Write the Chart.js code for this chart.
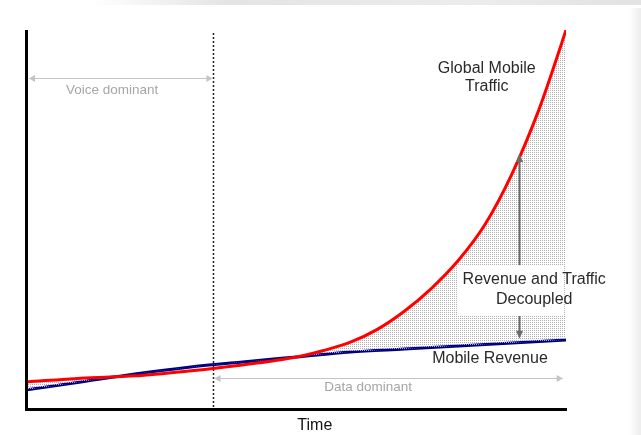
<!DOCTYPE html>
<html>
<head>
<meta charset="utf-8">
<title>Mobile traffic vs revenue</title>
<script src="https://cdn.jsdelivr.net/npm/chart.js@4"></script>
<style>
  html, body { margin: 0; padding: 0; background: #fff; }
  #wrap { position: relative; width: 641px; height: 435px; overflow: hidden; }
  #topband { position: absolute; left: 90px; right: 0; top: 0; height: 5px;
    background: linear-gradient(to right, rgba(225,225,225,0), #e4e4e4 25%, #ececec 70%, #e2e2e2); }
  #sideband { position: absolute; right: 0; top: 8px; width: 12px; bottom: 0;
    background: linear-gradient(to right, rgba(238,238,238,0), #ededed); }
  canvas { position: absolute; left: 0; top: 0; }
</style>
</head>
<body>
<div id="wrap">
  <div id="topband"></div>
  <div id="sideband"></div>
  <canvas id="mc" width="641" height="435"></canvas>
</div>
<script>
// time runs 0..100, both series on a 0..100 index scale
var TIME     = [0, 10, 20, 30, 40, 50, 55, 60, 65, 70, 75, 80, 85, 90, 95, 97.5, 100];
var TRAFFIC  = [6.9, 7.9, 8.5, 9.8, 11.4, 13.5, 15.2, 17.4, 20.8, 25.6, 31.6, 39.0, 48.6, 62.0, 79.0, 89.2, 100];
var REV_TIME = [0, 10, 20, 30, 40, 50, 60, 70, 80, 90, 100];
var REVENUE  = [4.8, 6.9, 9.0, 10.8, 12.2, 13.5, 14.8, 15.6, 16.4, 17.2, 18.0];

var DATA_ERA_START = 34.5;   // dashed divider: voice -> data
var GAP_AT = 91.3;           // where the decoupling arrows sit

var FONT = '"Liberation Sans", Arial, sans-serif';

function pts(xs, ys) {
  var out = [];
  for (var i = 0; i < xs.length; i++) out.push({ x: xs[i], y: ys[i] });
  return out;
}

// light stipple for the gap between the curves
var pc = document.createElement('canvas');
pc.width = 2; pc.height = 2;
var pctx = pc.getContext('2d');
pctx.fillStyle = '#b0b0b0';
pctx.fillRect(0, 0, 1, 1);
var ctx = document.getElementById('mc').getContext('2d');
var stipple = ctx.createPattern(pc, 'repeat');

function arrowHead(c, x, y, dir, w, h, color) {
  // dir: 'up' 'down' 'left' 'right', tip at (x, y)
  c.fillStyle = color;
  c.beginPath();
  c.moveTo(x, y);
  if (dir === 'up')    { c.lineTo(x - w / 2, y + h); c.lineTo(x + w / 2, y + h); }
  if (dir === 'down')  { c.lineTo(x - w / 2, y - h); c.lineTo(x + w / 2, y - h); }
  if (dir === 'left')  { c.lineTo(x + h, y - w / 2); c.lineTo(x + h, y + w / 2); }
  if (dir === 'right') { c.lineTo(x - h, y - w / 2); c.lineTo(x - h, y + w / 2); }
  c.closePath();
  c.fill();
}

var decor = {
  id: 'decor',
  beforeDatasetsDraw: function (chart) {
    var c = chart.ctx, xs = chart.scales.x, ys = chart.scales.y, a = chart.chartArea;
    c.save();
    // voice / data divider
    var dx = Math.round(xs.getPixelForValue(DATA_ERA_START)) + 0.5;
    c.strokeStyle = '#222';
    c.lineWidth = 1.5;
    c.setLineDash([2, 2]);
    c.beginPath();
    c.moveTo(dx, a.top + 3);
    c.lineTo(dx, a.bottom);
    c.stroke();
    c.setLineDash([]);

    // era span arrows
    c.strokeStyle = '#c4c4c4';
    c.lineWidth = 1;
    var vy = Math.round(ys.getPixelForValue(87.3)) + 0.5;
    var x0 = xs.getPixelForValue(0) + 2, x1 = dx - 1;
    c.beginPath(); c.moveTo(x0, vy); c.lineTo(x1, vy); c.stroke();
    arrowHead(c, x0, vy, 'left', 7, 6, '#c4c4c4');
    arrowHead(c, x1, vy, 'right', 7, 6, '#c4c4c4');

    var dy = Math.round(ys.getPixelForValue(7.9)) + 0.5;
    var x2 = dx + 1, x3 = xs.getPixelForValue(99.4);
    c.beginPath(); c.moveTo(x2, dy); c.lineTo(x3, dy); c.stroke();
    arrowHead(c, x2, dy, 'left', 7, 6, '#c4c4c4');
    arrowHead(c, x3, dy, 'right', 7, 6, '#c4c4c4');

    c.fillStyle = '#a6a6a6';
    c.font = '13.5px ' + FONT;
    c.textAlign = 'center';
    c.textBaseline = 'middle';
    c.fillText('Voice dominant', xs.getPixelForValue(15.8), ys.getPixelForValue(84.1));
    c.fillText('Data dominant', xs.getPixelForValue(63.3), ys.getPixelForValue(5.6));
    c.restore();
  },
  afterDatasetsDraw: function (chart) {
    var c = chart.ctx, xs = chart.scales.x, ys = chart.scales.y, a = chart.chartArea;
    c.save();
    // blank panel behind the gap label
    var bx0 = xs.getPixelForValue(79.8), bx1 = xs.getPixelForValue(99.6);
    var by0 = ys.getPixelForValue(37.8), by1 = ys.getPixelForValue(24.6);
    c.fillStyle = '#fff';
    c.fillRect(bx0, by0, bx1 - bx0, by1 - by0);

    // decoupling arrows
    var ax = Math.round(xs.getPixelForValue(GAP_AT)) + 0.5;
    c.strokeStyle = '#6a6a6a';
    c.lineWidth = 2;
    var upTip = ys.getPixelForValue(67.2);
    c.beginPath(); c.moveTo(ax, by0); c.lineTo(ax, upTip + 6); c.stroke();
    arrowHead(c, ax, upTip, 'up', 7, 8, '#6a6a6a');
    var dnTip = ys.getPixelForValue(18.3);
    c.beginPath(); c.moveTo(ax, by1 + 1); c.lineTo(ax, dnTip - 6); c.stroke();
    arrowHead(c, ax, dnTip, 'down', 7, 8, '#6a6a6a');

    // axes
    c.strokeStyle = '#000';
    c.lineWidth = 3;
    c.beginPath();
    c.moveTo(a.left - 0.5, a.top);
    c.lineTo(a.left - 0.5, a.bottom + 1.5);
    c.lineTo(a.right + 1, a.bottom + 1.5);
    c.stroke();

    // labels
    c.fillStyle = '#2a2a2a';
    c.font = '16px ' + FONT;
    c.textAlign = 'center';
    c.textBaseline = 'middle';
    c.fillText('Global Mobile', xs.getPixelForValue(85.3), ys.getPixelForValue(89.9));
    c.fillText('Traffic', xs.getPixelForValue(85.3), ys.getPixelForValue(84.9));
    c.fillText('Revenue and Traffic', xs.getPixelForValue(94.1), ys.getPixelForValue(33.9));
    c.fillText('Decoupled', xs.getPixelForValue(94.1), ys.getPixelForValue(28.6));
    c.fillText('Mobile Revenue', xs.getPixelForValue(85.9), ys.getPixelForValue(13.2));
    c.fillStyle = '#111';
    c.fillText('Time', xs.getPixelForValue(53.4), a.bottom + 18);
    c.restore();
  }
};

new Chart(ctx, {
  type: 'line',
  data: {
    datasets: [
      {
        label: 'Global Mobile Traffic',
        data: pts(TIME, TRAFFIC),
        borderColor: '#ff0000', borderWidth: 3,
        cubicInterpolationMode: 'monotone',
        pointRadius: 0,
        fill: { target: 1, above: stipple, below: 'rgba(0,0,0,0)' }
      },
      {
        label: 'Mobile Revenue',
        data: pts(REV_TIME, REVENUE),
        borderColor: '#000080', borderWidth: 3,
        cubicInterpolationMode: 'monotone',
        pointRadius: 0,
        fill: false
      }
    ]
  },
  options: {
    responsive: false,
    animation: false,
    layout: { padding: { left: 27, right: 75, top: 30, bottom: 27 } },
    plugins: { legend: { display: false }, tooltip: { enabled: false } },
    scales: {
      x: { type: 'linear', min: 0, max: 100, display: false },
      y: { min: 0, max: 100, display: false }
    }
  },
  plugins: [decor]
});
</script>
</body>
</html>
